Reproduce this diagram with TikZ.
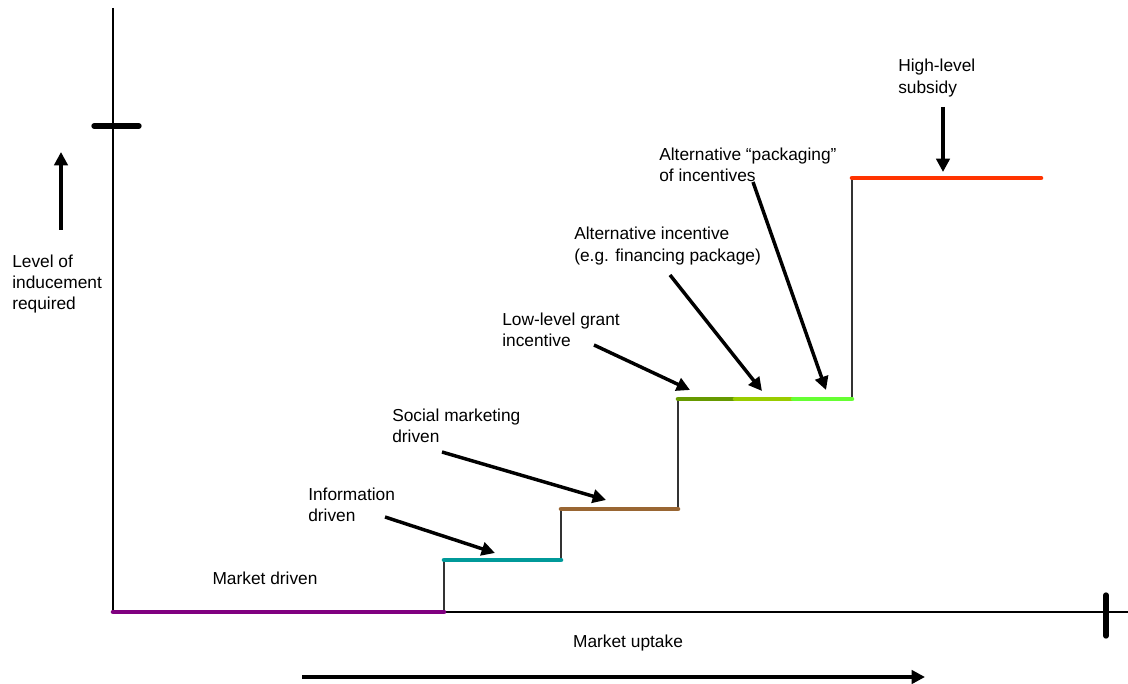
\documentclass[tikz,border=0pt]{standalone}
\usepackage{fontspec}
\setmainfont{Liberation Sans}
\usetikzlibrary{arrows.meta}

\definecolor{mktpurple}{HTML}{800080}
\definecolor{infoteal}{HTML}{009999}
\definecolor{socbrown}{HTML}{996633}
\definecolor{grantgreen}{HTML}{669900}
\definecolor{altgreen}{HTML}{99CC00}
\definecolor{packgreen}{HTML}{66FF33}
\definecolor{subred}{HTML}{FF3300}

\begin{document}
\begin{tikzpicture}[
  x=0.75pt, y=-0.75pt,
  label/.style={align=left, anchor=west, inner sep=0pt, font=\fontsize{13}{16}\selectfont},
  axis/.style={line width=0.9pt},
  riser/.style={line width=0.9pt, black!80},
  tread/.style={line width=3.4pt, line cap=round},
  tick/.style={line width=4pt, line cap=round},
  pointer/.style={-{Triangle[length=10pt, width=10pt]}, line width=2.6pt}
]
\useasboundingbox (0,0) rectangle (1128,684);

% axes and end marks
\coordinate (o) at (113,612);
\coordinate (ytop) at (113,8);
\coordinate (xend) at (1128,612);
\draw[axis] (ytop) -- (o) -- (xend);
\draw[tick] (94,126) -- (139,126);
\draw[tick] (1106,595) -- (1106,636);

% step corners
\coordinate (a1) at (444,612);
\coordinate (a2) at (444,560);
\coordinate (b1) at (561,560);
\coordinate (b2) at (561,509);
\coordinate (c1) at (678,509);
\coordinate (c2) at (678,399);
\coordinate (g1) at (735,399);
\coordinate (g2) at (793,399);
\coordinate (d1) at (852,399);
\coordinate (d2) at (852,178);
\coordinate (e1) at (1041,178);

\draw[riser] (a1) -- (a2);
\draw[riser] (b1) -- (b2);
\draw[riser] (c1) -- (c2);
\draw[riser] (d1) -- (d2);

\draw[tread, mktpurple] (o) -- (a1);
\draw[tread, infoteal] (a2) -- (b1);
\draw[tread, socbrown] (b2) -- (c1);
\draw[tread, grantgreen] (c2) -- (g1);
\draw[tread, altgreen] (g1) -- (g2);
\draw[tread, packgreen] (g2) -- (d1);
\draw[tread, subred] (d2) -- (e1);

% labels
\node[label] (level) at (12,284) {Level of\\inducement\\required};
\node[label, anchor=center] (mktdriven) at (265,578) {Market driven};
\node[label, anchor=center] (uptake) at (628,643) {Market uptake};
\node[label] (info) at (308,505) {Information\\driven};
\node[label] (social) at (392,426) {Social marketing\\driven};
\node[label] (grant) at (502,330) {Low-level grant\\incentive};
\node[label] (altinc) at (574,246) {Alternative incentive\\(e.g. financing package)};
\node[label] (pack) at (659,165) {Alternative “packaging”\\of incentives};
\node[label] (high) at (898,78) {High-level\\subsidy};

% pointers
\coordinate (level-s) at (61,230);
\coordinate (level-e) at (61,152);
\coordinate (uptake-s) at (302,677);
\coordinate (uptake-e) at (925,677);
\coordinate (info-s) at (385,517);
\coordinate (info-e) at (495,553);
\coordinate (social-s) at (442,452);
\coordinate (social-e) at (606,500);
\coordinate (grant-s) at (594,345);
\coordinate (grant-e) at (690,390);
\coordinate (altinc-s) at (670,275);
\coordinate (altinc-e) at (762,391);
\coordinate (pack-s) at (753,182);
\coordinate (pack-e) at (826,390);
\coordinate (high-s) at (943,107);
\coordinate (high-e) at (943,172);

\draw[pointer] (level-s) -- (level-e);
\draw[pointer, line width=3.4pt] (uptake-s) -- (uptake-e);
\draw[pointer] (info-s) -- (info-e);
\draw[pointer] (social-s) -- (social-e);
\draw[pointer] (grant-s) -- (grant-e);
\draw[pointer] (altinc-s) -- (altinc-e);
\draw[pointer] (pack-s) -- (pack-e);
\draw[pointer] (high-s) -- (high-e);

\end{tikzpicture}
\end{document}
